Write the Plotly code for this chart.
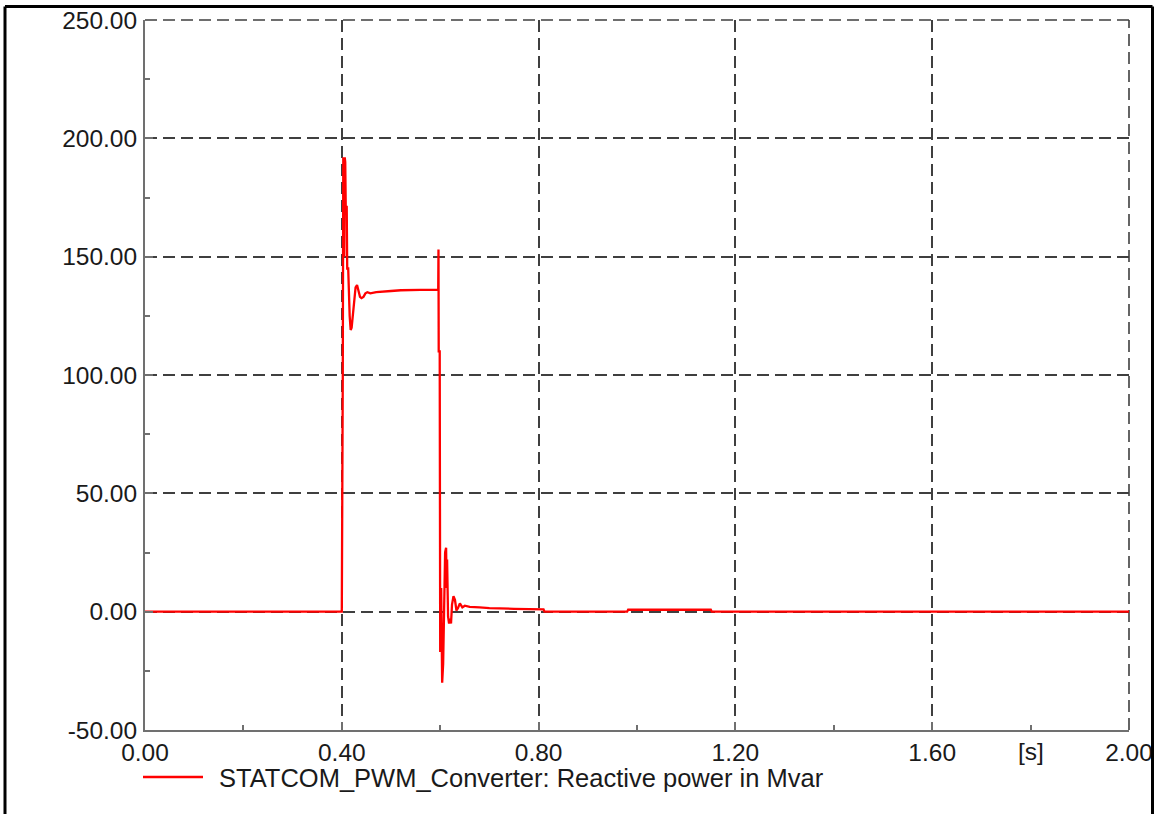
import plotly.graph_objects as go

# Time [s] and reactive power [Mvar]
time_s = [0.000, 0.400, 0.402, 0.403, 0.404, 0.405, 0.406, 0.407, 0.408, 0.410,
          0.411, 0.413, 0.416, 0.418, 0.420, 0.424, 0.428, 0.431, 0.434, 0.437,
          0.440, 0.444, 0.448, 0.452, 0.458, 0.470, 0.500, 0.520, 0.560, 0.596,
          0.5965, 0.597, 0.599, 0.600, 0.602, 0.604, 0.606, 0.608, 0.610, 0.612,
          0.613, 0.614, 0.616, 0.618, 0.620, 0.622, 0.624, 0.627, 0.630, 0.633,
          0.636, 0.640, 0.645, 0.650, 0.660, 0.680, 0.700, 0.750, 0.810, 0.812,
          0.980, 0.982, 1.150, 1.152, 2.000]
q_mvar = [0.0, 0.0, 100.0, 192.0, 185.0, 150.0, 192.0, 190.0, 171.0, 171.0,
          145.0, 145.0, 125.0, 119.0, 120.0, 130.0, 137.0, 138.0, 136.0, 133.0,
          132.5, 133.0, 134.5, 135.0, 134.5, 135.0, 135.5, 135.8, 136.0, 136.0,
          153.0, 110.0, 110.0, -17.0, 10.0, -30.0, -22.0, 5.0, 25.0, 27.0,
          10.0, 22.0, -2.0, -5.0, -3.0, -5.0, 3.0, 6.5, 5.0, 0.5,
          1.5, 3.5, 1.8, 2.5, 2.0, 1.8, 1.5, 1.2, 1.0, 0.0,
          0.0, 0.8, 0.8, 0.0, 0.0]

x_ticks = [0.0, 0.4, 0.8, 1.2, 1.6, 2.0]
x_tick_labels = ["0.00", "0.40", "0.80", "1.20", "1.60", "2.00"]
y_ticks = [-50, 0, 50, 100, 150, 200, 250]
y_tick_labels = ["-50.00", "0.00", "50.00", "100.00", "150.00", "200.00", "250.00"]
series_name = "STATCOM_PWM_Converter: Reactive power in Mvar"
x_unit = "[s]"

FONT = "Liberation Sans, Arial, sans-serif"
W, H = 1161, 814
L, T = 145, 20
pw, ph = 984, 710
R = W - L - pw
B = H - T - ph
GRID_COLOR = "#3f3f3f"
GRID_DASH = "12px,6px"


def px_x(p):
    # page pixel -> paper x
    return (p - L) / pw


def px_y(p):
    # page pixel -> paper y
    return (T + ph - p) / ph


fig = go.Figure()
fig.add_trace(go.Scatter(x=time_s, y=q_mvar, mode="lines",
                         line=dict(color="#ff0000", width=2.3),
                         name=series_name, showlegend=False))

axis_common = dict(
    showline=True, linecolor="#707070", linewidth=2,
    showgrid=True, gridcolor=GRID_COLOR, gridwidth=1.6, griddash=GRID_DASH,
    zeroline=False, ticks="inside", ticklen=8, tickcolor="#707070", tickwidth=2,
    tickfont=dict(family=FONT, size=24.5, color="#1a1a1a"),
    automargin=False,
)

fig.update_xaxes(range=[0, 2], tickvals=x_ticks, ticktext=x_tick_labels,
                 minor=dict(ticks="inside", ticklen=5, dtick=0.2, tick0=0,
                            tickcolor="#707070", showgrid=False),
                 **axis_common)
fig.update_yaxes(range=[-50, 250], tickvals=y_ticks, ticktext=y_tick_labels,
                 ticklabelstandoff=1,
                 minor=dict(ticks="inside", ticklen=5, dtick=25, tick0=0,
                            tickcolor="#707070", showgrid=False),
                 **axis_common)

shapes = [
    # grid lines on the plot edges (top at 250, right at 2.00), which plotly skips
    dict(type="line", xref="paper", yref="paper", x0=0, x1=1, y0=1, y1=1,
         line=dict(color=GRID_COLOR, width=1.6, dash=GRID_DASH), layer="below"),
    dict(type="line", xref="paper", yref="paper", x0=1, x1=1, y0=0, y1=1,
         line=dict(color=GRID_COLOR, width=1.6, dash=GRID_DASH), layer="below"),
    # outer frame (left, top, right)
    dict(type="line", xref="paper", yref="paper", x0=px_x(5), x1=px_x(5),
         y0=px_y(H + 10), y1=px_y(6.5), line=dict(color="black", width=3)),
    dict(type="line", xref="paper", yref="paper", x0=px_x(5), x1=px_x(1152.5),
         y0=px_y(6.5), y1=px_y(6.5), line=dict(color="black", width=3)),
    dict(type="line", xref="paper", yref="paper", x0=px_x(1152.5), x1=px_x(1152.5),
         y0=px_y(6.5), y1=px_y(H + 10), line=dict(color="black", width=3)),
    # legend line sample
    dict(type="line", xref="paper", yref="paper", x0=px_x(143), x1=px_x(203),
         y0=px_y(777), y1=px_y(777), line=dict(color="#ff0000", width=2.5)),
]

annotations = [
    dict(text=series_name, xref="paper", yref="paper", x=px_x(217), y=px_y(778),
         xanchor="left", yanchor="middle", showarrow=False,
         font=dict(family=FONT, size=25.5, color="#1a1a1a")),
    dict(text=x_unit, xref="x", yref="paper", x=1.8, y=px_y(751),
         xanchor="center", yanchor="middle", showarrow=False,
         font=dict(family=FONT, size=24.5, color="#1a1a1a")),
]

fig.update_layout(
    width=W, height=H,
    margin=dict(l=L, r=R, t=T, b=B, pad=0),
    paper_bgcolor="white", plot_bgcolor="white",
    showlegend=False, shapes=shapes, annotations=annotations,
)

fig.write_html(
    "out.html",
    config={"displayModeBar": False},
    post_script="document.body.style.margin='0';document.body.style.overflow='hidden';",
)
